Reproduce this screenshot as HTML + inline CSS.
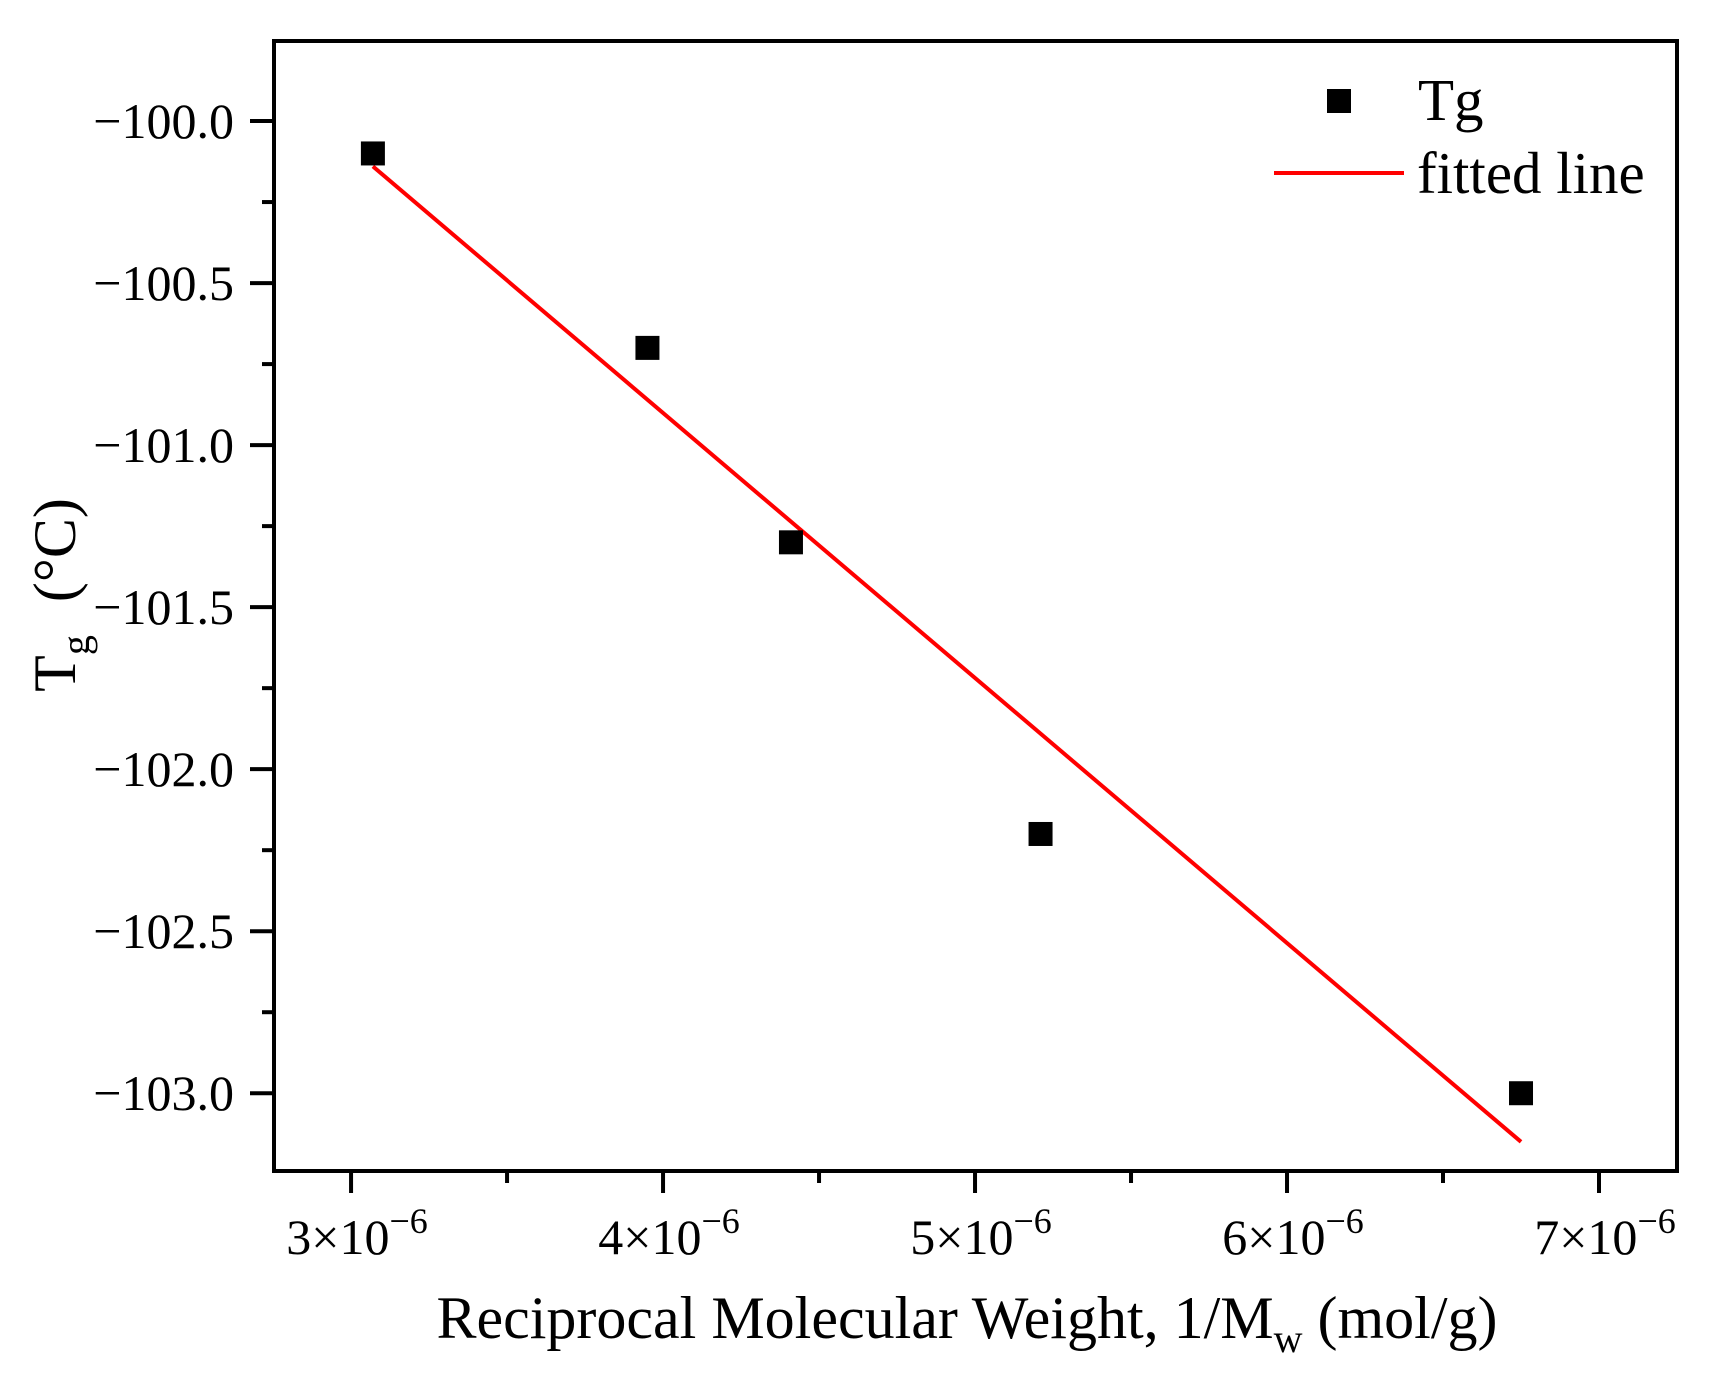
<!DOCTYPE html>
<html><head><meta charset="utf-8"><style>
html,body{margin:0;padding:0;background:#fff;}
svg{display:block;font-family:"Liberation Serif",serif;}
</style></head><body>
<svg id="chart" width="1715" height="1379" viewBox="0 0 1715 1379" xmlns="http://www.w3.org/2000/svg">
<rect x="0" y="0" width="1715" height="1379" fill="#fff"/>
<g id="plot"></g>
</svg>
<script>
const xValues = [3.07e-6, 3.95e-6, 4.41e-6, 5.21e-6, 6.75e-6];
const yValues = [-100.1, -100.7, -101.3, -102.2, -103.0];
const fitX = [3.07e-6, 6.75e-6];
const fitY = [-100.14, -103.15];
const xTickVals = [3, 4, 5, 6, 7];
const xTickLabels = ["3", "4", "5", "6", "7"];
const yTickVals = [-100.0, -100.5, -101.0, -101.5, -102.0, -102.5, -103.0];
const yTickLabels = ["\u2212100.0", "\u2212100.5", "\u2212101.0", "\u2212101.5", "\u2212102.0", "\u2212102.5", "\u2212103.0"];

const L=274, R=1677, T=41, B=1171;
const xMin=2.753e-6, xMax=7.25e-6, yMin=-103.24, yMax=-99.753;
function sx(v){return L+(v-xMin)/(xMax-xMin)*(R-L);}
function sy(v){return T+(yMax-v)/(yMax-yMin)*(B-T);}
const NS="http://www.w3.org/2000/svg";
const g=document.getElementById('plot');
function mk(tag,attrs,text){const e=document.createElementNS(NS,tag);for(const k in attrs)e.setAttribute(k,attrs[k]);if(text!==undefined)e.textContent=text;g.appendChild(e);return e;}

let e=mk('rect',{x:L,y:T,width:R-L,height:B-T,fill:'none',stroke:'#000','stroke-width':4});



xTickVals.forEach((v,i)=>{
  const x=sx(v*1e-6);
  let t=mk('line',{x1:x,y1:B,x2:x,y2:B+22,stroke:'#000','stroke-width':4});
  
  
  if(i<xTickVals.length-1){
    const xm=sx((v+0.5)*1e-6);
    let m=mk('line',{x1:xm,y1:B,x2:xm,y2:B+12,stroke:'#000','stroke-width':4});
    
    
  }
  let lb=mk('text',{x:x+6,y:1254,'font-size':50,'text-anchor':'middle'});
  
  
  const a=document.createElementNS(NS,'tspan');a.textContent=xTickLabels[i]+"\u00d710";lb.appendChild(a);
  const s=document.createElementNS(NS,'tspan');s.setAttribute('dy','-21');s.setAttribute('font-size','36');s.textContent="\u22126";lb.appendChild(s);
});
yTickVals.forEach((v,i)=>{
  const y=sy(v);
  let t=mk('line',{x1:L-24,y1:y,x2:L,y2:y,stroke:'#000','stroke-width':4});
  
  
  const ym=sy(v-0.25);
  if(ym<B){let m=mk('line',{x1:L-12,y1:ym,x2:L,y2:ym,stroke:'#000','stroke-width':4});
  
  }
  let lb=mk('text',{x:234,y:y+17,'font-size':50,'text-anchor':'end'},yTickLabels[i]);
  
  
});

let fl=mk('line',{x1:sx(fitX[0]),y1:sy(fitY[0]),x2:sx(fitX[1]),y2:sy(fitY[1]),stroke:'#ff0000','stroke-width':4});



xValues.forEach((v,i)=>{
  let p=mk('rect',{x:sx(v)-12,y:sy(yValues[i])-12,width:24,height:24,fill:'#000'});
  
  
});

let ls=mk('rect',{x:1327,y:89,width:24,height:24,fill:'#000'});


let lt=mk('text',{x:1418,y:120,'font-size':59},'Tg');


let ll=mk('line',{x1:1274,y1:173,x2:1404,y2:173,stroke:'#ff0000','stroke-width':4});


let lt2=mk('text',{x:1417,y:193,'font-size':59},'fitted line');



let xt=mk('text',{x:967,y:1338,'font-size':60,'text-anchor':'middle'});


{const a=document.createElementNS(NS,'tspan');a.textContent="Reciprocal Molecular Weight, 1/M";xt.appendChild(a);
const s=document.createElementNS(NS,'tspan');s.setAttribute('dy','14');s.setAttribute('font-size','40');s.textContent="w";xt.appendChild(s);
const c=document.createElementNS(NS,'tspan');c.setAttribute('dy','-14');c.textContent=" (mol/g)";xt.appendChild(c);}

let yt=mk('text',{x:0,y:0,'font-size':60,'text-anchor':'middle',transform:'translate(75,595) rotate(-90)'});


{const a=document.createElementNS(NS,'tspan');a.textContent="T";yt.appendChild(a);
const s=document.createElementNS(NS,'tspan');s.setAttribute('dy','14');s.setAttribute('font-size','40');s.textContent="g";yt.appendChild(s);
const c=document.createElementNS(NS,'tspan');c.setAttribute('dy','-14');c.setAttribute('dx','18');c.textContent=" (\u00b0C)";yt.appendChild(c);}
</script>
</body></html>
